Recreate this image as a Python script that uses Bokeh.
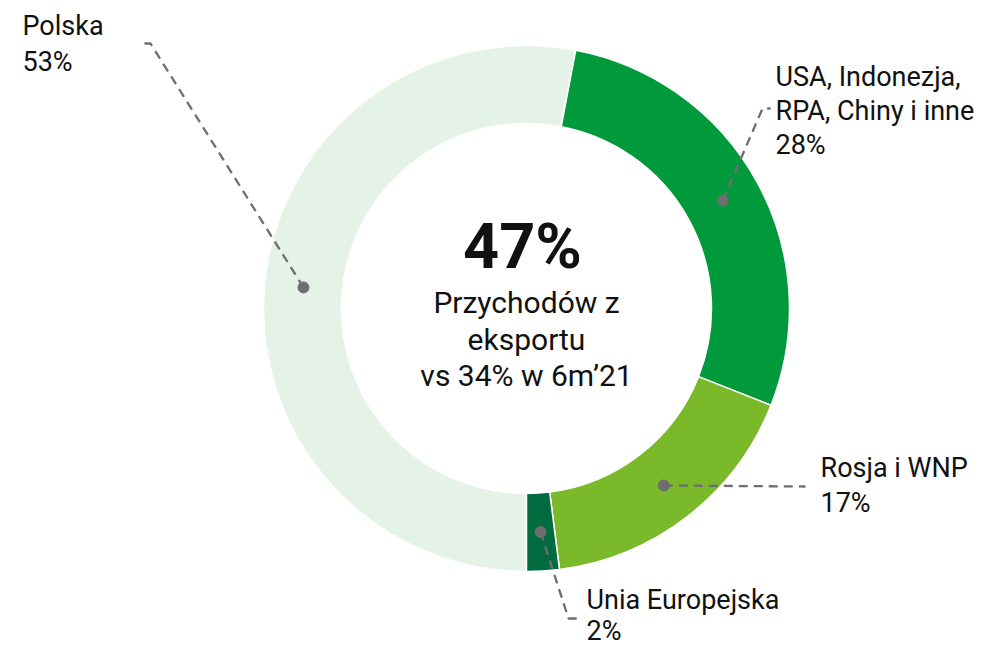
import numpy as np
from bokeh.plotting import figure
from bokeh.models import Range1d, ColumnDataSource
from bokeh.core.properties import value
from bokeh.embed import file_html
from bokeh.resources import INLINE

# ---- data ----
regions = ["Polska", "USA, Indonezja, RPA, Chiny i inne", "Rosja i WNP", "Unia Europejska"]
label_lines = [["Polska", "53%"],
               ["USA, Indonezja,", "RPA, Chiny i inne", "28%"],
               ["Rosja i WNP", "17%"],
               ["Unia Europejska", "2%"]]
shares = [53, 28, 17, 2]
colors = ["#e5f2e7", "#00993b", "#7ab929", "#006b3f"]
center_big = "47%"
center_lines = ["Przychodów z", "eksportu", "vs 34% w 6m\u201921"]

FONT = "Roboto"
H = 665

def Y(img_y):
    return H - img_y

p = figure(width=984, height=649, output_backend="svg", toolbar_location=None,
           x_range=Range1d(0, 984), y_range=Range1d(H - 649, H), min_border=0)
p.axis.visible = False
p.grid.visible = False
p.outline_line_color = None
p.background_fill_color = "white"
p.border_fill_color = "white"

cx, cy = 526, Y(308)
r_in, r_out = 185, 263
vals = np.array(shares, dtype=float)
frac = vals / vals.sum()
cum = np.concatenate([[0], np.cumsum(frac)])
base = -np.pi / 2  # start at bottom, clockwise
starts = base - 2 * np.pi * cum[:-1]
ends = base - 2 * np.pi * cum[1:]
src = ColumnDataSource(dict(start=starts, end=ends, color=colors))
p.annular_wedge(x=cx, y=cy, inner_radius=r_in, outer_radius=r_out,
                start_angle="start", end_angle="end", direction="clock",
                fill_color="color", line_color="white", line_width=1.5, source=src)

# dots at mid angle of each slice, mid radius of ring
mid = (starts + ends) / 2
rm = (r_in + r_out) / 2
dx = cx + rm * np.cos(mid)
dy = cy + rm * np.sin(mid)

# leader layout: (elbow x, elbow y), end x ; labels: x, first baseline, line spacing
leaders = [((150, 43), 139), ((762, 108), 770), ((805, 486), 805), ((568, 618), 578)]
label_pos = [(22, 25, 36), (775, 76, 34), (820, 467, 35), (586, 599, 31)]
GREY = "#6e6e6e"
for i in range(len(shares)):
    (ex, ey), endx = leaders[i]
    p.line([dx[i], ex, endx], [dy[i], Y(ey), Y(ey)], line_color=GREY,
           line_width=2.3, line_dash="9 6")
p.scatter(dx, dy, size=11, color=GREY)

for i, lines in enumerate(label_lines):
    lx, b0, sp = label_pos[i]
    for j, t in enumerate(lines):
        p.text(x=[lx], y=[Y(b0 + j * sp)], text=[t], text_font=value(FONT),
               text_font_size="27px", text_color="#111111", text_baseline="alphabetic",
               text_align="left")

p.text(x=[cx - 4], y=[Y(246)], text=[center_big], text_font=value(FONT),
       text_font_style="bold", text_font_size="63px", text_color="#111111",
       text_baseline="alphabetic", text_align="center")
for j, t in enumerate(center_lines):
    p.text(x=[cx], y=[Y(302 + j * 36.5)], text=[t], text_font=value(FONT),
           text_font_size="30px", text_color="#111111", text_baseline="alphabetic",
           text_align="center")

open("out.html", "w").write(file_html(p, INLINE))
